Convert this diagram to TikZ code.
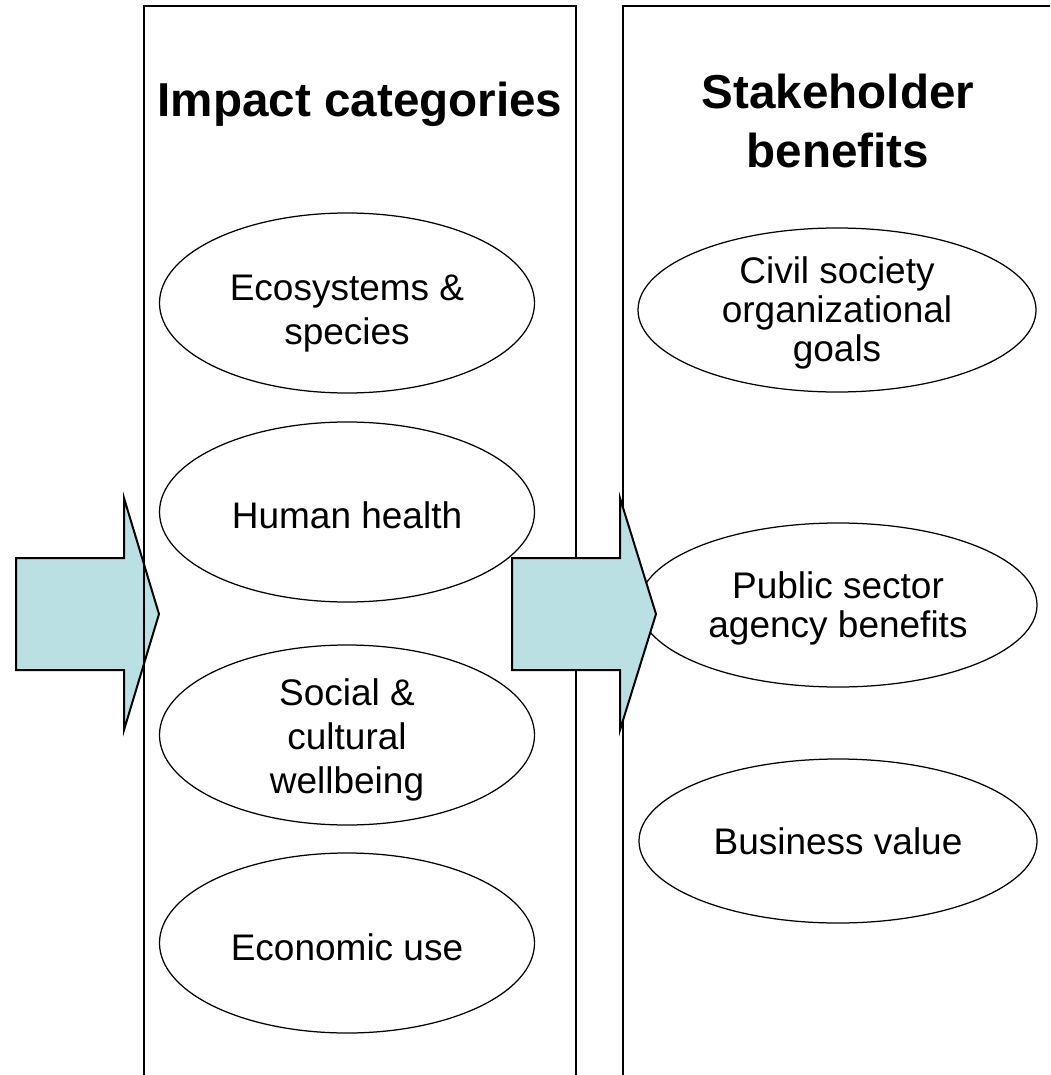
\documentclass[tikz,border=0pt]{standalone}
\usepackage{fontspec}
\setmainfont{Liberation Sans}
\usetikzlibrary{shapes.geometric}
\definecolor{arrowfill}{RGB}{187,224,227}
\newcommand{\lowerby}[1]{\rule{0pt}{#1}}
\tikzset{
  colbox/.style={draw=black, line width=2pt},
  bigarrow/.style={draw=black, fill=arrowfill, line width=2pt, line join=miter},
  oval/.style={ellipse, draw=black, line width=1.25pt, inner sep=-15pt, align=center,
    font=\fontsize{37}{43}\selectfont},
  ovalL/.style={oval, minimum width=375pt, minimum height=180pt,
    font=\fontsize{37}{44}\selectfont},
  ovalR/.style={oval, minimum width=398pt, minimum height=164pt,
    font=\fontsize{37}{39}\selectfont},
  title/.style={align=center, inner sep=0pt, font=\fontsize{47.6}{59}\selectfont\bfseries}
}
\begin{document}
\begin{tikzpicture}[x=1pt, y=-1pt]
\useasboundingbox (0,0) rectangle (1050,1075);
\clip (0,0) rectangle (1050,1075);
% left block arrow
\draw[bigarrow] (16,558) -- (124,558) -- (124,498) -- (159,614) -- (124,730)
  -- (124,670) -- (16,670) -- cycle;
% columns
\draw[colbox] (144,1100) -- (144,6) -- (576,6) -- (576,1100);
\draw[colbox] (623,1100) -- (623,6) -- (1070,6) -- (1070,1100);
% titles
\node[title, anchor=base] (t1) at (360,117) {Impact categories};
\node[title] (t2) at (838,121) {Stakeholder\\benefits};
% impact ellipses
\node[ovalL] (eco) at (347,303) {\lowerby{46pt}Ecosystems \&\\species};
\node[ovalL] (hum) at (347,512) {\lowerby{33pt}Human health};
\node[ovalL] (soc) at (347,735) {\lowerby{37pt}Social \&\\cultural\\wellbeing};
\node[ovalL] (econ) at (347,943) {\lowerby{35pt}Economic use};
% stakeholder ellipses
\node[ovalR] (civ) at (837,310) {\lowerby{32pt}Civil society\\organizational\\goals};
\node[ovalR] (pub) at (838,605) {\lowerby{33pt}Public sector\\agency benefits};
\node[ovalR] (bus) at (838,841) {Business value};
% middle block arrow
\draw[bigarrow] (512,558) -- (620,558) -- (620,498) -- (656,614) -- (620,730)
  -- (620,670) -- (512,670) -- cycle;
\end{tikzpicture}
\end{document}
